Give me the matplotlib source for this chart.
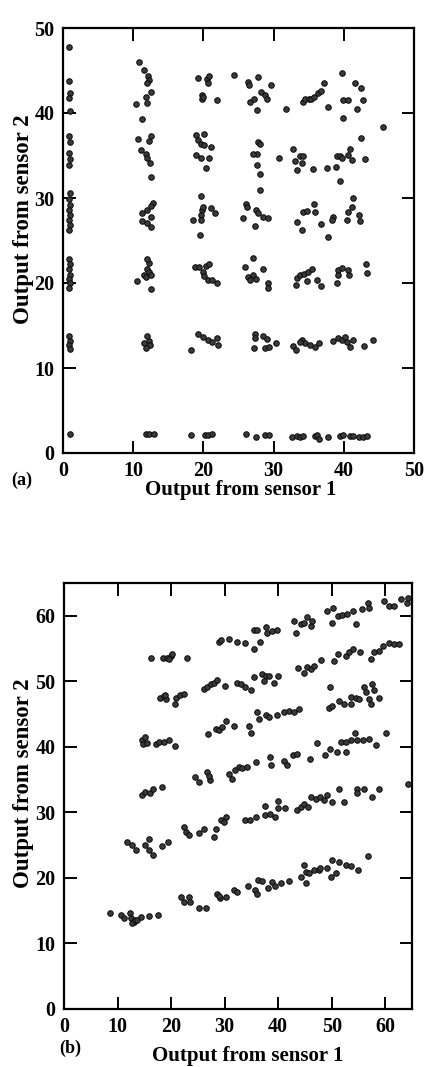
import numpy as np
import matplotlib
matplotlib.use("Agg")
import matplotlib.pyplot as plt

# ---- plot (a): clusters on a grid, grouped by column ----
a_col0 = [(0.9, 47.8), (0.9, 43.8), (1.0, 42.3), (0.9, 41.8), (1.0, 40.2), (0.9, 37.3), (1.0, 36.6),
          (0.9, 35.3), (1.0, 34.6), (0.9, 33.9), (1.0, 30.6), (0.8, 29.9), (1.0, 29.2), (0.9, 28.6),
          (1.0, 28.0), (0.9, 27.4), (1.0, 26.8), (0.9, 26.2), (0.9, 22.8), (1.0, 22.2), (0.9, 21.6),
          (1.0, 21.0), (0.9, 20.5), (1.0, 20.0), (0.9, 19.4), (0.9, 13.8), (1.0, 13.2), (0.9, 12.7),
          (1.0, 12.2), (1.0, 2.2)]
a_col12 = [(10.8, 46.0), (11.5, 45.1), (12.1, 44.4), (12.2, 43.9), (11.9, 43.5), (12.5, 42.5), (11.8, 41.9),
           (11.9, 41.2), (10.4, 41.1), (11.3, 39.3), (10.7, 36.9), (12.6, 37.3), (12.3, 36.7), (11.1, 35.7),
           (11.8, 35.2), (11.9, 34.7), (12.4, 34.1), (12.5, 32.5), (12.8, 29.4), (12.5, 29.1), (11.9, 28.6),
           (11.3, 28.2), (11.3, 27.3), (11.9, 27.1), (12.5, 27.8), (12.5, 26.6), (10.6, 20.2), (11.5, 21.0),
           (12.0, 21.6), (12.2, 22.3), (12.0, 22.8), (12.3, 21.3), (11.8, 20.7), (12.5, 21.0), (12.5, 19.3),
           (11.9, 13.8), (12.2, 13.2), (11.6, 13.0), (12.4, 12.7), (11.8, 12.4), (11.8, 2.2), (12.3, 2.2),
           (13.0, 2.2)]
a_col20 = [(19.2, 44.1), (20.5, 44.0), (20.8, 44.3), (20.7, 43.5), (19.8, 42.1), (19.8, 41.7), (20.0, 41.9),
           (22.0, 41.5), (19.0, 37.4), (20.1, 37.5), (19.3, 36.8), (19.6, 36.3), (20.1, 36.2), (21.1, 36.0),
           (19.0, 35.1), (19.7, 34.7), (20.8, 34.7), (20.4, 33.5), (19.7, 30.2), (19.8, 28.6), (19.7, 28.0),
           (19.7, 27.4), (19.9, 28.9), (18.5, 27.4), (21.1, 28.8), (21.6, 28.2), (19.5, 25.6), (18.8, 21.9),
           (19.4, 21.9), (20.3, 22.0), (20.8, 22.2), (19.9, 21.3), (20.1, 20.8), (20.6, 20.4), (21.2, 20.4),
           (21.9, 20.0), (19.3, 14.0), (20.0, 13.7), (20.7, 13.3), (21.2, 13.1), (21.9, 13.5), (22.1, 12.7),
           (18.3, 12.1), (18.2, 2.1), (20.2, 2.1), (20.7, 2.1), (21.2, 2.2)]
a_col27 = [(24.3, 44.5), (26.4, 43.7), (26.5, 43.3), (27.8, 44.2), (28.2, 42.5), (28.8, 42.1), (29.0, 41.7),
           (29.7, 43.3), (26.7, 41.3), (27.2, 41.7), (27.6, 40.3), (31.8, 40.5), (27.8, 36.6), (28.1, 36.4),
           (27.6, 35.2), (27.0, 35.2), (27.7, 33.9), (28.0, 32.8), (28.0, 30.9), (30.8, 34.7), (26.1, 29.3),
           (26.2, 29.0), (27.5, 28.6), (27.8, 28.2), (28.5, 27.8), (29.2, 27.6), (25.7, 27.7), (27.3, 26.7),
           (25.9, 21.9), (27.0, 22.9), (28.5, 21.7), (26.4, 20.7), (27.1, 20.9), (27.5, 20.5), (26.7, 20.4),
           (29.2, 20.0), (29.2, 19.4), (27.3, 14.0), (27.3, 13.5), (27.2, 12.4), (28.5, 13.8), (29.0, 13.4),
           (28.8, 12.3), (29.4, 12.5), (30.4, 13.0), (26.1, 2.2), (27.5, 1.9), (28.8, 2.1), (29.4, 2.1)]
a_col34 = [(34.2, 41.3), (34.5, 41.6), (35.0, 41.6), (35.3, 41.7), (35.8, 41.9), (36.3, 42.3), (36.7, 42.6),
           (37.2, 43.5), (37.8, 40.7), (32.7, 35.8), (33.0, 34.3), (33.3, 33.3), (34.0, 34.1), (33.8, 34.9),
           (34.2, 34.9), (35.6, 33.4), (37.6, 33.5), (33.4, 27.2), (34.0, 26.2), (34.2, 28.4), (34.7, 28.5),
           (35.7, 29.3), (35.9, 28.4), (36.8, 27.0), (37.8, 25.4), (33.2, 19.8), (33.4, 20.6), (33.8, 20.9),
           (34.3, 21.1), (34.9, 21.3), (35.4, 21.6), (34.7, 20.2), (36.2, 20.4), (36.8, 19.6), (32.7, 12.6),
           (33.2, 12.1), (34.0, 13.3), (34.5, 12.9), (35.2, 12.7), (35.9, 12.5), (36.4, 12.9), (33.7, 13.1),
           (32.6, 1.9), (33.3, 2.0), (33.8, 1.9), (34.2, 2.0), (35.9, 2.0), (36.2, 2.1), (36.5, 1.7), (37.8, 1.9)]
a_col40 = [(39.8, 44.7), (41.6, 43.5), (42.5, 43.0), (39.9, 41.5), (40.6, 41.5), (42.7, 41.5), (41.9, 40.5),
           (39.9, 39.4), (45.6, 38.4), (42.5, 37.1), (39.0, 34.9), (39.5, 35.0), (39.8, 34.7), (38.9, 33.6),
           (39.4, 32.0), (40.9, 35.8), (40.6, 35.1), (41.1, 34.5), (43.0, 34.6), (40.4, 27.4), (40.6, 28.4),
           (41.1, 29.0), (41.3, 30.0), (38.5, 27.8), (38.3, 27.4), (42.1, 28.0), (42.3, 27.3), (39.2, 21.5),
           (39.2, 20.9), (39.1, 20.0), (39.7, 21.8), (40.6, 21.5), (40.8, 21.0), (43.2, 22.2), (43.3, 21.2),
           (38.5, 13.2), (39.2, 13.5), (39.7, 13.3), (40.2, 13.6), (40.5, 13.1), (40.9, 12.5), (41.3, 13.3),
           (42.9, 12.6), (44.1, 13.3), (39.4, 2.0), (39.9, 2.1), (40.9, 2.0), (41.3, 2.0), (42.1, 1.9),
           (42.8, 1.9), (43.3, 2.0)]

# ---- plot (b): slanted bands, top to bottom ----
b_band1 = [(16.3, 53.5), (18.4, 53.6), (19.2, 53.5), (19.9, 53.8), (20.2, 54.1), (19.6, 53.4), (23.0, 53.6),
           (28.9, 56.0), (29.3, 56.3), (30.8, 56.4), (32.3, 56.0), (33.9, 55.9), (35.5, 55.0), (36.7, 56.0),
           (35.5, 57.9), (36.1, 57.8), (37.7, 58.3), (38.0, 57.4), (38.9, 57.6), (39.8, 57.9), (43.0, 59.2),
           (43.3, 57.3), (44.2, 58.8), (44.8, 58.9), (45.4, 59.8), (46.1, 58.4), (46.4, 59.2), (49.2, 60.8),
           (50.3, 61.2), (50.1, 58.9), (51.1, 60.0), (52.0, 60.1), (52.9, 60.3), (53.9, 60.7), (54.6, 58.7),
           (55.7, 61.0), (56.7, 62.0), (57.0, 61.2), (59.8, 62.2), (60.7, 61.5), (61.6, 61.5), (62.9, 62.5),
           (64.0, 62.0), (64.2, 62.7)]
b_band2 = [(18.0, 47.5), (18.6, 47.8), (19.0, 47.3), (18.9, 47.9), (20.8, 46.5), (20.9, 47.5), (21.7, 47.9),
           (22.5, 48.1), (26.1, 48.8), (26.7, 49.1), (27.4, 49.6), (28.0, 49.8), (28.6, 50.2), (30.0, 49.3),
           (32.3, 49.8), (33.0, 49.6), (33.9, 49.2), (34.9, 48.6), (35.5, 50.6), (37.0, 51.1), (37.7, 50.8),
           (37.4, 50.1), (38.3, 50.8), (39.2, 49.8), (40.0, 50.8), (43.8, 52.0), (44.8, 51.3), (45.4, 52.2),
           (46.1, 51.9), (46.7, 52.4), (48.0, 53.2), (50.4, 53.1), (51.1, 54.1), (52.6, 53.9), (53.3, 54.4),
           (53.9, 54.9), (55.3, 54.4), (57.3, 53.4), (57.9, 54.4), (58.9, 54.6), (59.5, 55.4), (60.7, 55.9),
           (61.7, 55.7), (62.6, 55.7)]
b_band3 = [(14.6, 41.0), (15.2, 41.5), (14.7, 40.4), (15.5, 40.6), (17.1, 40.5), (17.8, 40.7), (18.6, 40.7),
           (19.6, 41.0), (20.8, 40.2), (26.9, 41.9), (28.3, 42.7), (28.9, 42.5), (29.5, 43.0), (30.2, 44.0),
           (31.7, 43.2), (34.5, 43.2), (35.0, 42.1), (36.1, 45.3), (36.4, 44.3), (37.7, 44.8), (38.3, 44.5),
           (39.8, 44.8), (41.1, 45.3), (42.0, 45.5), (43.0, 45.3), (43.9, 45.8), (49.7, 49.1), (49.5, 46.0),
           (50.1, 46.3), (51.4, 47.0), (52.3, 46.6), (53.6, 47.6), (53.6, 46.5), (54.5, 47.5), (55.1, 47.3),
           (56.1, 49.1), (56.4, 48.3), (57.0, 47.3), (57.3, 46.5), (57.6, 49.6), (57.9, 48.6), (58.9, 47.5)]
b_band4 = [(14.6, 32.6), (15.2, 33.1), (16.1, 32.9), (16.7, 33.6), (18.3, 33.8), (24.5, 35.4), (25.2, 34.6),
           (26.7, 36.1), (27.3, 34.9), (27.0, 35.6), (30.8, 35.9), (31.4, 35.1), (32.0, 36.4), (32.7, 36.9),
           (33.3, 36.7), (34.2, 37.0), (35.8, 37.7), (38.4, 38.4), (38.6, 37.2), (41.1, 37.9), (41.7, 37.2),
           (42.7, 38.7), (43.6, 38.9), (45.9, 38.2), (47.3, 40.6), (48.8, 38.8), (49.6, 39.7), (50.9, 39.2),
           (51.7, 40.7), (52.6, 39.2), (52.6, 40.7), (53.6, 41.0), (54.4, 42.1), (54.8, 41.0), (55.8, 41.1),
           (57.0, 41.2), (58.3, 40.3), (60.1, 42.1)]
b_band5 = [(11.7, 25.5), (12.7, 25.0), (13.4, 24.2), (15.1, 25.0), (15.8, 25.9), (15.8, 24.2), (16.7, 23.5),
           (18.3, 24.8), (19.4, 25.5), (22.4, 27.8), (22.7, 27.0), (23.4, 26.5), (25.2, 26.8), (26.1, 27.4),
           (28.0, 26.2), (28.4, 27.4), (29.4, 28.8), (30.2, 29.3), (29.9, 28.5), (33.9, 28.8), (34.8, 28.9),
           (35.8, 29.3), (37.5, 30.9), (37.6, 29.6), (38.4, 29.8), (39.4, 29.3), (40.0, 31.7), (40.0, 30.6),
           (41.3, 30.6), (43.6, 30.3), (44.2, 30.8), (44.8, 31.3), (45.5, 30.8), (46.1, 32.3), (47.0, 32.1),
           (47.9, 32.3), (48.6, 31.9), (49.2, 32.6), (50.1, 31.6), (51.4, 33.6), (52.3, 31.6), (54.8, 33.6),
           (54.8, 32.9), (56.1, 33.6), (57.6, 32.4), (58.9, 33.6), (64.2, 34.4)]
b_band6 = [(8.6, 14.7), (10.7, 14.4), (11.3, 13.9), (12.4, 14.6), (12.6, 13.9), (13.0, 13.3), (12.7, 13.1),
           (13.3, 13.6), (13.6, 13.6), (14.3, 14.0), (15.8, 14.2), (17.5, 14.4), (21.9, 17.1), (22.4, 16.4),
           (23.3, 17.1), (23.6, 16.4), (25.2, 15.4), (26.5, 15.4), (28.6, 17.6), (29.2, 17.0), (30.2, 17.1),
           (29.0, 17.2), (31.7, 18.2), (32.3, 17.8), (34.4, 18.8), (35.7, 18.2), (36.1, 17.6), (36.3, 19.7),
           (37.0, 19.6), (38.1, 18.4), (38.9, 19.4), (39.5, 18.7), (40.5, 19.2), (42.1, 19.6), (44.2, 20.1),
           (44.8, 22.0), (45.2, 20.9), (45.2, 19.3), (45.8, 20.7), (46.7, 21.2), (47.6, 21.2), (47.9, 21.5),
           (49.2, 21.5), (49.8, 20.1), (50.1, 22.7), (50.8, 20.7), (51.4, 22.5), (52.6, 21.9), (53.6, 21.8),
           (55.0, 21.2), (56.7, 23.3)]

a_pts = np.array(a_col0 + a_col12 + a_col20 + a_col27 + a_col34 + a_col40)
b_pts = np.array(b_band1 + b_band2 + b_band3 + b_band4 + b_band5 + b_band6)

a_ticks = [0, 10, 20, 30, 40, 50]
b_ticks = [0, 10, 20, 30, 40, 50, 60]

font = dict(family=['Liberation Serif', 'DejaVu Serif'], weight='bold')
W, H = 427, 1067

fig = plt.figure(figsize=(W / 100, H / 100), dpi=100)
fig.patch.set_facecolor('white')


def px_axes(l, t, r, b):
    return fig.add_axes([l / W, 1 - b / H, (r - l) / W, (b - t) / H])


def style(ax, xt, yt, lim_x, lim_y):
    ax.set_xlim(*lim_x)
    ax.set_ylim(*lim_y)
    ax.set_xticks(xt)
    ax.set_yticks(yt)
    ax.tick_params(direction='in', length=9, width=1.4, top=True, right=True,
                   labeltop=False, labelright=False, pad=6)
    for lab in ax.get_xticklabels() + ax.get_yticklabels():
        lab.set_fontfamily(font['family'])
        lab.set_fontweight('bold')
        lab.set_fontsize(14.5)
    for sp in ax.spines.values():
        sp.set_linewidth(1.6)
        sp.set_color('black')


dot = dict(s=16, c='#3a3a3a', edgecolors='#0a0a0a', linewidths=0.7, zorder=3, clip_on=False)

ax1 = px_axes(63, 28, 414, 453)
ax1.scatter(a_pts[:, 0], a_pts[:, 1], **dot)
style(ax1, a_ticks, a_ticks, (0, 50), (0, 50))
ax1.set_ylabel('Output from sensor 2', fontsize=16.5, **font)
ax1.yaxis.set_label_coords(-0.082, 0.55)
fig.text(241 / W, 1 - 490 / H, 'Output from sensor 1', fontsize=15, ha='center', va='center', **font)
fig.text(22 / W, 1 - 480 / H, '(a)', fontsize=13, ha='center', va='center', **font)

ax2 = px_axes(64, 583, 412, 1009)
ax2.scatter(b_pts[:, 0], b_pts[:, 1], **dot)
style(ax2, b_ticks, b_ticks, (0, 65), (0, 65))
ax2.set_ylabel('Output from sensor 2', fontsize=16.5, **font)
ax2.yaxis.set_label_coords(-0.086, 0.53)
fig.text(248 / W, 1 - 1056 / H, 'Output from sensor 1', fontsize=15, ha='center', va='center', **font)
fig.text(70 / W, 1 - 1048 / H, '(b)', fontsize=13, ha='center', va='center', **font)

fig.savefig('out.png', dpi=100)
